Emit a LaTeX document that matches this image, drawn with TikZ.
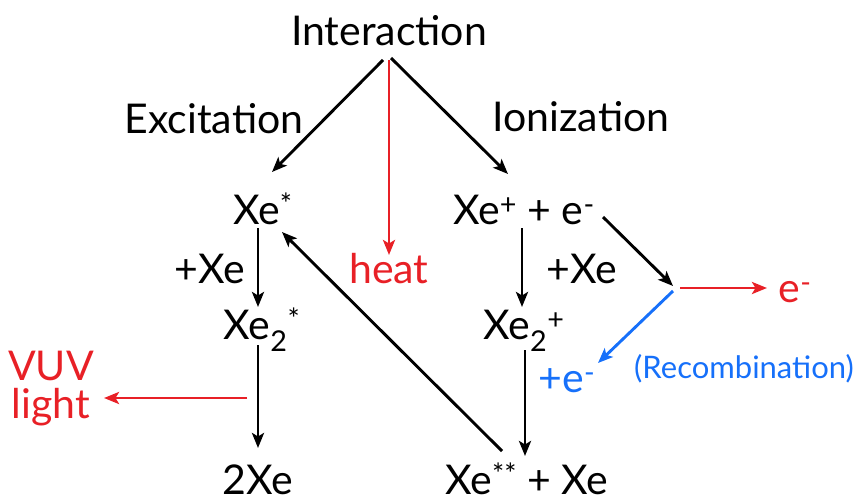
\documentclass[tikz,border=0pt]{standalone}
\usepackage{fontspec}
\setmainfont{Lato}
\usetikzlibrary{arrows.meta}
\definecolor{myred}{RGB}{232,32,38}
\definecolor{myblue}{RGB}{22,112,250}
\begin{document}
\begin{tikzpicture}[x=1pt,y=-1pt,
  txt/.style={inner sep=0pt, anchor=base, font=\fontsize{41}{44}\selectfont},
  arr/.style={line width=2.9pt, -{Stealth[length=15pt,width=12pt,inset=3.5pt]}}]
\useasboundingbox (0,0) rectangle (862,495);
\node[txt] (intr) at (389,46) {Interaction};
\node[txt] (exc) at (214,133) {Excitation};
\node[txt] (ion) at (581,131) {Ionization};
\node[txt] (xes) at (263,224) {Xe\textsuperscript{*}};
\node[txt,myred] (heat) at (389,283) {heat};
\node[txt] (xep) at (524,224) {Xe\textsuperscript{+} + e\textsuperscript{-}};
\node[txt] (pxl) at (210,283) {+Xe};
\node[txt] (pxr) at (582,283) {+Xe};
\node[txt] (xe2s) at (262,339) {Xe\textsubscript{2}\textsuperscript{*}};
\node[txt] (xe2p) at (524,339) {Xe\textsubscript{2}\textsuperscript{+}};
\node[txt,myred,anchor=center,align=center,font=\fontsize{41}{38}\selectfont] (vuv) at (51,389) {VUV\\light};
\node[txt] (twoxe) at (258,494) {2Xe};
\node[txt] (xess) at (527,494) {Xe\textsuperscript{**} + Xe};
\coordinate (junc) at (675,288);
\node[txt,myred] (em) at (795,302) {e\textsuperscript{-}};
\node[txt,myblue] (pe) at (567,392) {+e\textsuperscript{-}};
\node[txt,myblue,font=\fontsize{31}{33}\selectfont] (rec) at (744,378) {(Recombination)};
% arrows
\draw[arr] ([shift={(-6,14)}]intr.base) -- ([shift={(9,-52)}]xes.base);
\draw[arr,myred] ([shift={(0,14)}]intr.base) -- ([shift={(0,-28)}]heat.base);
\draw[arr] ([shift={(2,12)}]intr.base) -- ([shift={(-16,-50)}]xep.base);
\draw[arr] ([shift={(-5,4)}]xes.base) -- ([shift={(-4,-32)}]xe2s.base);
\draw[arr] ([shift={(-4,6)}]xe2s.base) -- ([shift={(0,-46)}]twoxe.base);
\draw[arr,myred] ([shift={(-15,59)}]xe2s.base) -- ([shift={(53,9)}]vuv.center);
\draw[arr] ([shift={(-2,4)}]xep.base) -- ([shift={(-2,-32)}]xe2p.base);
\draw[arr] ([shift={(1,11)}]xe2p.base) -- ([shift={(-2,-38)}]xess.base);
\draw[arr] ([shift={(-25,-43)}]xess.base) -- ([shift={(19,8)}]xes.base);
\draw[arr] ([shift={(79,-7)}]xep.base) -- ([shift={(-2,-2)}]junc);
\draw[arr,myred] ([shift={(5,0)}]junc) -- ([shift={(-28,-14)}]em.base);
\draw[arr,myblue] ([shift={(-2,3)}]junc) -- ([shift={(31,-29)}]pe.base);
\end{tikzpicture}
\end{document}
